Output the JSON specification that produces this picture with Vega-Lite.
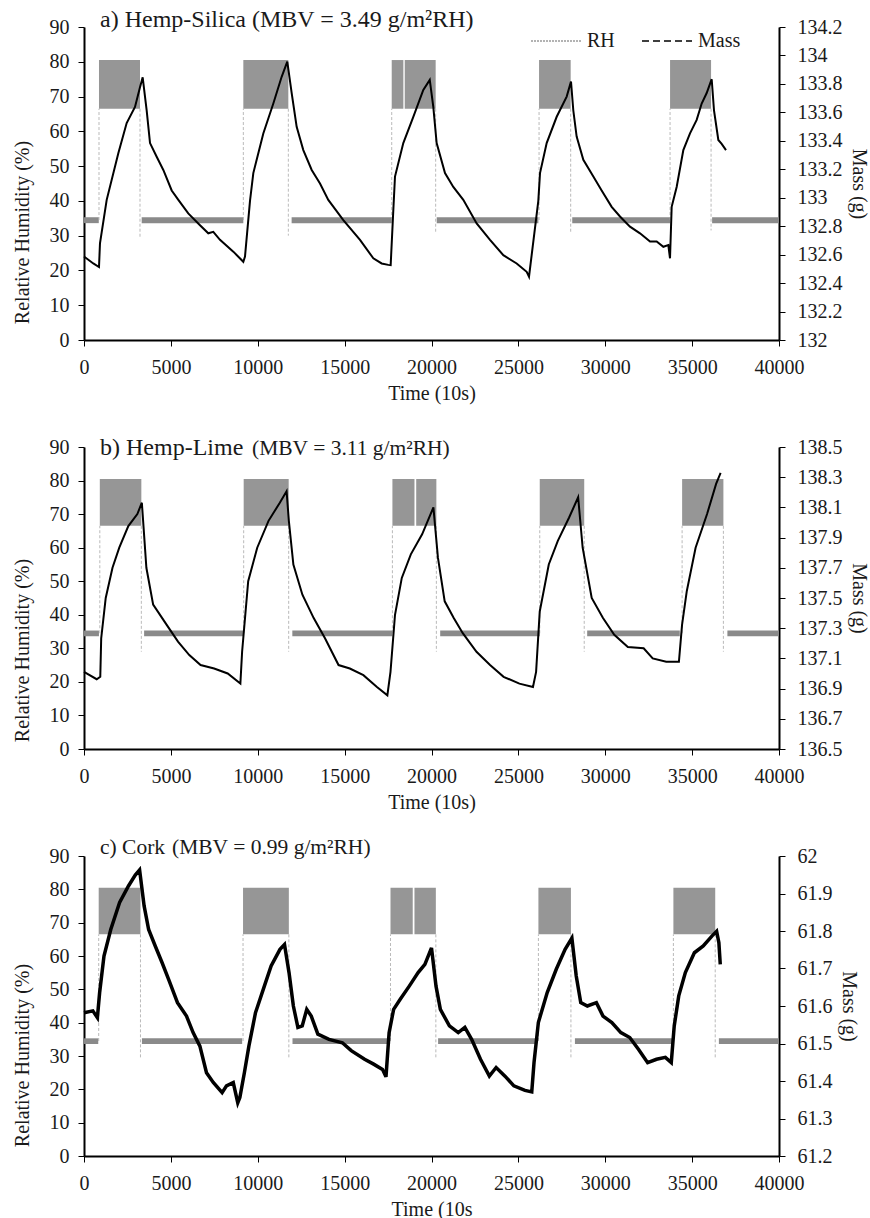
{
  "$schema": "https://vega.github.io/schema/vega-lite/v6.json",
  "padding": {"left": 12, "top": 8, "right": 3, "bottom": 0},
  "background": "white",
  "config": {
    "view": {"stroke": null},
    "font": "Liberation Serif",
    "axis": {
      "domainColor": "#000", "domainWidth": 2, "tickColor": "#000", "tickWidth": 1, "tickSize": 6,
      "labelFont": "Liberation Serif", "labelFontSize": 20, "labelColor": "#1a1a1a",
      "titleFont": "Liberation Serif", "titleFontSize": 20, "titleFontWeight": "normal", "titleColor": "#1a1a1a",
      "grid": false, "labelPadding": 9, "labelOverlap": false, "labelFlush": false
    }
  },
  "datasets": {
    "bands_a": [
      {"t": 863, "t2": 3223, "lo": 66.5, "hi": 80.5, "phase": "high"},
      {"t": 9170, "t2": 11760, "lo": 66.5, "hi": 80.5, "phase": "high"},
      {"t": 17710, "t2": 18380, "lo": 66.5, "hi": 80.5, "phase": "high"},
      {"t": 18460, "t2": 20240, "lo": 66.5, "hi": 80.5, "phase": "high"},
      {"t": 26190, "t2": 28010, "lo": 66.5, "hi": 80.5, "phase": "high"},
      {"t": 33730, "t2": 36090, "lo": 66.5, "hi": 80.5, "phase": "high"},
      {"t": 0, "t2": 850, "lo": 33.6, "hi": 35.3, "phase": "low"},
      {"t": 3320, "t2": 9170, "lo": 33.6, "hi": 35.3, "phase": "low"},
      {"t": 11950, "t2": 17710, "lo": 33.6, "hi": 35.3, "phase": "low"},
      {"t": 20300, "t2": 26150, "lo": 33.6, "hi": 35.3, "phase": "low"},
      {"t": 28100, "t2": 33730, "lo": 33.6, "hi": 35.3, "phase": "low"},
      {"t": 36150, "t2": 40000, "lo": 33.6, "hi": 35.3, "phase": "low"}
    ],
    "rules_a": [
      {"t": 863, "r1": 34.5, "r2": 66.5},
      {"t": 3223, "r1": 66.5, "r2": 29.3},
      {"t": 9170, "r1": 34.5, "r2": 66.5},
      {"t": 11760, "r1": 66.5, "r2": 30},
      {"t": 17710, "r1": 34.5, "r2": 66.5},
      {"t": 20240, "r1": 66.5, "r2": 30.8},
      {"t": 26190, "r1": 34.5, "r2": 66.5},
      {"t": 28010, "r1": 66.5, "r2": 30.8},
      {"t": 33730, "r1": 34.5, "r2": 66.5},
      {"t": 36090, "r1": 66.5, "r2": 31.5}
    ],
    "mass_a": [
      {"t": 0, "m": 132.587}, {"t": 535, "m": 132.538}, {"t": 863, "m": 132.513}, {"t": 920, "m": 132.68},
      {"t": 1306, "m": 132.985}, {"t": 1975, "m": 133.313}, {"t": 2456, "m": 133.525}, {"t": 2935, "m": 133.638},
      {"t": 3223, "m": 133.777}, {"t": 3377, "m": 133.846}, {"t": 3608, "m": 133.613}, {"t": 3800, "m": 133.384},
      {"t": 4183, "m": 133.288}, {"t": 4565, "m": 133.195}, {"t": 5047, "m": 133.051}, {"t": 5430, "m": 132.985},
      {"t": 6000, "m": 132.89}, {"t": 6676, "m": 132.807}, {"t": 7154, "m": 132.75}, {"t": 7442, "m": 132.76},
      {"t": 7827, "m": 132.704}, {"t": 8594, "m": 132.621}, {"t": 9169, "m": 132.55}, {"t": 9266, "m": 132.587},
      {"t": 9554, "m": 132.978}, {"t": 9745, "m": 133.173}, {"t": 10320, "m": 133.452}, {"t": 10896, "m": 133.662},
      {"t": 11376, "m": 133.85}, {"t": 11700, "m": 133.956}, {"t": 11953, "m": 133.736}, {"t": 12240, "m": 133.498},
      {"t": 12622, "m": 133.335}, {"t": 13105, "m": 133.195}, {"t": 13583, "m": 133.1}, {"t": 14060, "m": 132.985},
      {"t": 14925, "m": 132.843}, {"t": 15885, "m": 132.704}, {"t": 16652, "m": 132.574}, {"t": 17131, "m": 132.538},
      {"t": 17515, "m": 132.528}, {"t": 17650, "m": 132.526}, {"t": 17780, "m": 132.856}, {"t": 17899, "m": 133.149},
      {"t": 18377, "m": 133.384}, {"t": 18953, "m": 133.569}, {"t": 19528, "m": 133.758}, {"t": 19900, "m": 133.828},
      {"t": 20104, "m": 133.638}, {"t": 20296, "m": 133.384}, {"t": 20777, "m": 133.173}, {"t": 21255, "m": 133.076},
      {"t": 21830, "m": 132.985}, {"t": 22600, "m": 132.819}, {"t": 23367, "m": 132.704}, {"t": 24134, "m": 132.596},
      {"t": 24902, "m": 132.538}, {"t": 25477, "m": 132.479}, {"t": 25612, "m": 132.445}, {"t": 26148, "m": 132.978},
      {"t": 26245, "m": 133.173}, {"t": 26629, "m": 133.384}, {"t": 27205, "m": 133.569}, {"t": 27780, "m": 133.711},
      {"t": 28029, "m": 133.816}, {"t": 28162, "m": 133.613}, {"t": 28354, "m": 133.43}, {"t": 28738, "m": 133.266},
      {"t": 29314, "m": 133.149}, {"t": 29793, "m": 133.051}, {"t": 30369, "m": 132.936}, {"t": 30849, "m": 132.868},
      {"t": 31424, "m": 132.797}, {"t": 32000, "m": 132.75}, {"t": 32576, "m": 132.692}, {"t": 32960, "m": 132.692},
      {"t": 33343, "m": 132.655}, {"t": 33630, "m": 132.667}, {"t": 33727, "m": 132.574}, {"t": 33823, "m": 132.936},
      {"t": 34110, "m": 133.076}, {"t": 34494, "m": 133.335}, {"t": 34878, "m": 133.452}, {"t": 35262, "m": 133.547},
      {"t": 35550, "m": 133.662}, {"t": 35838, "m": 133.736}, {"t": 36126, "m": 133.833}, {"t": 36259, "m": 133.613},
      {"t": 36508, "m": 133.406}, {"t": 36700, "m": 133.379}, {"t": 36950, "m": 133.335}
    ],
    "bands_b": [
      {"t": 910, "t2": 3300, "lo": 66.5, "hi": 80.5, "phase": "high"},
      {"t": 9190, "t2": 11780, "lo": 66.5, "hi": 80.5, "phase": "high"},
      {"t": 17750, "t2": 19020, "lo": 66.5, "hi": 80.5, "phase": "high"},
      {"t": 19120, "t2": 20280, "lo": 66.5, "hi": 80.5, "phase": "high"},
      {"t": 26230, "t2": 28790, "lo": 66.5, "hi": 80.5, "phase": "high"},
      {"t": 34424, "t2": 36800, "lo": 66.5, "hi": 80.5, "phase": "high"},
      {"t": 0, "t2": 860, "lo": 33.6, "hi": 35.3, "phase": "low"},
      {"t": 3460, "t2": 9185, "lo": 33.6, "hi": 35.3, "phase": "low"},
      {"t": 11990, "t2": 17745, "lo": 33.6, "hi": 35.3, "phase": "low"},
      {"t": 20500, "t2": 26230, "lo": 33.6, "hi": 35.3, "phase": "low"},
      {"t": 28960, "t2": 34290, "lo": 33.6, "hi": 35.3, "phase": "low"},
      {"t": 37030, "t2": 40000, "lo": 33.6, "hi": 35.3, "phase": "low"}
    ],
    "rules_b": [
      {"t": 910, "r1": 34.5, "r2": 66.5},
      {"t": 3300, "r1": 66.5, "r2": 29},
      {"t": 9190, "r1": 34.5, "r2": 66.5},
      {"t": 11780, "r1": 66.5, "r2": 29},
      {"t": 17750, "r1": 34.5, "r2": 66.5},
      {"t": 20280, "r1": 66.5, "r2": 29},
      {"t": 26230, "r1": 34.5, "r2": 66.5},
      {"t": 28790, "r1": 66.5, "r2": 29},
      {"t": 34424, "r1": 34.5, "r2": 66.5},
      {"t": 36800, "r1": 66.5, "r2": 29}
    ],
    "mass_b": [
      {"t": 0, "m": 137.011}, {"t": 730, "m": 136.962}, {"t": 937, "m": 136.978}, {"t": 990, "m": 137.233},
      {"t": 1250, "m": 137.5}, {"t": 1640, "m": 137.7}, {"t": 2030, "m": 137.833}, {"t": 2550, "m": 137.976},
      {"t": 3070, "m": 138.056}, {"t": 3330, "m": 138.131}, {"t": 3590, "m": 137.7}, {"t": 3980, "m": 137.456},
      {"t": 4760, "m": 137.322}, {"t": 5410, "m": 137.211}, {"t": 6060, "m": 137.122}, {"t": 6710, "m": 137.056},
      {"t": 7490, "m": 137.033}, {"t": 8270, "m": 137.0}, {"t": 9000, "m": 136.933}, {"t": 9100, "m": 137.144},
      {"t": 9450, "m": 137.611}, {"t": 9970, "m": 137.833}, {"t": 10620, "m": 138.011}, {"t": 11270, "m": 138.131},
      {"t": 11660, "m": 138.207}, {"t": 11790, "m": 138.011}, {"t": 12050, "m": 137.722}, {"t": 12570, "m": 137.522},
      {"t": 13220, "m": 137.367}, {"t": 13870, "m": 137.233}, {"t": 14650, "m": 137.056}, {"t": 15300, "m": 137.033},
      {"t": 16080, "m": 136.989}, {"t": 16860, "m": 136.911}, {"t": 17460, "m": 136.856}, {"t": 17640, "m": 137.011},
      {"t": 17900, "m": 137.389}, {"t": 18290, "m": 137.633}, {"t": 18810, "m": 137.789}, {"t": 19460, "m": 137.922},
      {"t": 20110, "m": 138.1}, {"t": 20370, "m": 137.767}, {"t": 20760, "m": 137.478}, {"t": 21280, "m": 137.367},
      {"t": 21800, "m": 137.267}, {"t": 22590, "m": 137.144}, {"t": 23370, "m": 137.056}, {"t": 24150, "m": 136.978},
      {"t": 25060, "m": 136.933}, {"t": 25840, "m": 136.911}, {"t": 26020, "m": 137.011}, {"t": 26230, "m": 137.411},
      {"t": 26750, "m": 137.722}, {"t": 27270, "m": 137.878}, {"t": 27920, "m": 138.033}, {"t": 28440, "m": 138.167},
      {"t": 28700, "m": 137.833}, {"t": 29220, "m": 137.5}, {"t": 29870, "m": 137.367}, {"t": 30520, "m": 137.256},
      {"t": 31300, "m": 137.176}, {"t": 32210, "m": 137.167}, {"t": 32730, "m": 137.1}, {"t": 33510, "m": 137.078},
      {"t": 34240, "m": 137.078}, {"t": 34420, "m": 137.322}, {"t": 34690, "m": 137.544}, {"t": 35200, "m": 137.833},
      {"t": 35860, "m": 138.056}, {"t": 36380, "m": 138.256}, {"t": 36640, "m": 138.329}
    ],
    "bands_c": [
      {"t": 846, "t2": 3250, "lo": 66.5, "hi": 80.5, "phase": "high"},
      {"t": 9153, "t2": 11790, "lo": 66.5, "hi": 80.5, "phase": "high"},
      {"t": 17640, "t2": 18920, "lo": 66.5, "hi": 80.5, "phase": "high"},
      {"t": 19020, "t2": 20250, "lo": 66.5, "hi": 80.5, "phase": "high"},
      {"t": 26153, "t2": 28025, "lo": 66.5, "hi": 80.5, "phase": "high"},
      {"t": 33922, "t2": 36330, "lo": 66.5, "hi": 80.5, "phase": "high"},
      {"t": 0, "t2": 820, "lo": 33.6, "hi": 35.3, "phase": "low"},
      {"t": 3333, "t2": 9102, "lo": 33.6, "hi": 35.3, "phase": "low"},
      {"t": 12000, "t2": 17615, "lo": 33.6, "hi": 35.3, "phase": "low"},
      {"t": 20380, "t2": 26025, "lo": 33.6, "hi": 35.3, "phase": "low"},
      {"t": 28255, "t2": 33900, "lo": 33.6, "hi": 35.3, "phase": "low"},
      {"t": 36540, "t2": 40000, "lo": 33.6, "hi": 35.3, "phase": "low"}
    ],
    "rules_c": [
      {"t": 846, "r1": 34.5, "r2": 66.5},
      {"t": 3250, "r1": 66.5, "r2": 29},
      {"t": 9153, "r1": 34.5, "r2": 66.5},
      {"t": 11790, "r1": 66.5, "r2": 29},
      {"t": 17640, "r1": 34.5, "r2": 66.5},
      {"t": 20250, "r1": 66.5, "r2": 29},
      {"t": 26153, "r1": 34.5, "r2": 66.5},
      {"t": 28025, "r1": 66.5, "r2": 29},
      {"t": 33922, "r1": 34.5, "r2": 66.5},
      {"t": 36330, "r1": 66.5, "r2": 29}
    ],
    "mass_c": [
      {"t": 0, "m": 61.582}, {"t": 510, "m": 61.587}, {"t": 770, "m": 61.569}, {"t": 900, "m": 61.636},
      {"t": 1150, "m": 61.733}, {"t": 1540, "m": 61.804}, {"t": 2050, "m": 61.876}, {"t": 2560, "m": 61.92},
      {"t": 2950, "m": 61.949}, {"t": 3200, "m": 61.963}, {"t": 3460, "m": 61.867}, {"t": 3720, "m": 61.804},
      {"t": 4100, "m": 61.76}, {"t": 4490, "m": 61.716}, {"t": 4870, "m": 61.671}, {"t": 5380, "m": 61.609},
      {"t": 5900, "m": 61.573}, {"t": 6280, "m": 61.529}, {"t": 6670, "m": 61.493}, {"t": 7050, "m": 61.422},
      {"t": 7440, "m": 61.396}, {"t": 7950, "m": 61.369}, {"t": 8200, "m": 61.387}, {"t": 8590, "m": 61.396},
      {"t": 8850, "m": 61.342}, {"t": 8970, "m": 61.356}, {"t": 9230, "m": 61.422}, {"t": 9490, "m": 61.493},
      {"t": 9870, "m": 61.582}, {"t": 10380, "m": 61.653}, {"t": 10770, "m": 61.707}, {"t": 11280, "m": 61.751},
      {"t": 11540, "m": 61.764}, {"t": 11800, "m": 61.689}, {"t": 12050, "m": 61.6}, {"t": 12310, "m": 61.543},
      {"t": 12560, "m": 61.547}, {"t": 12820, "m": 61.591}, {"t": 13080, "m": 61.573}, {"t": 13460, "m": 61.525},
      {"t": 14100, "m": 61.511}, {"t": 14870, "m": 61.502}, {"t": 15380, "m": 61.481}, {"t": 16150, "m": 61.458},
      {"t": 16670, "m": 61.445}, {"t": 17180, "m": 61.431}, {"t": 17380, "m": 61.411}, {"t": 17560, "m": 61.529},
      {"t": 17820, "m": 61.591}, {"t": 18200, "m": 61.618}, {"t": 18720, "m": 61.653}, {"t": 19230, "m": 61.689},
      {"t": 19620, "m": 61.711}, {"t": 20000, "m": 61.755}, {"t": 20260, "m": 61.653}, {"t": 20510, "m": 61.591},
      {"t": 21030, "m": 61.547}, {"t": 21540, "m": 61.529}, {"t": 21920, "m": 61.543}, {"t": 22310, "m": 61.511},
      {"t": 22820, "m": 61.458}, {"t": 23330, "m": 61.413}, {"t": 23720, "m": 61.436}, {"t": 24230, "m": 61.413},
      {"t": 24740, "m": 61.387}, {"t": 25380, "m": 61.375}, {"t": 25770, "m": 61.371}, {"t": 25900, "m": 61.449},
      {"t": 26150, "m": 61.556}, {"t": 26660, "m": 61.636}, {"t": 27180, "m": 61.698}, {"t": 27690, "m": 61.751},
      {"t": 28080, "m": 61.781}, {"t": 28330, "m": 61.68}, {"t": 28590, "m": 61.609}, {"t": 28970, "m": 61.6},
      {"t": 29490, "m": 61.609}, {"t": 29870, "m": 61.573}, {"t": 30380, "m": 61.556}, {"t": 30900, "m": 61.529},
      {"t": 31410, "m": 61.516}, {"t": 31920, "m": 61.484}, {"t": 32440, "m": 61.449}, {"t": 32950, "m": 61.458},
      {"t": 33460, "m": 61.463}, {"t": 33800, "m": 61.449}, {"t": 33970, "m": 61.547}, {"t": 34230, "m": 61.627},
      {"t": 34610, "m": 61.689}, {"t": 35130, "m": 61.742}, {"t": 35640, "m": 61.76}, {"t": 36150, "m": 61.787},
      {"t": 36410, "m": 61.799}, {"t": 36540, "m": 61.769}, {"t": 36620, "m": 61.711}
    ],
    "series": [{"series": "RH"}, {"series": "Mass"}],
    "blank": [{}]
  },
  "vconcat": [
    {
      "width": 695, "height": 313,
      "layer": [
        {"layer": [
          {"data": {"name": "bands_a"}, "mark": {"type": "rect"},
           "encoding": {
             "x": {"field": "t", "type": "quantitative", "title": "Time (10s)", "scale": {"domain": [0, 40000], "nice": false},
                   "axis": {"values": [0, 5000, 10000, 15000, 20000, 25000, 30000, 35000, 40000], "format": "d", "labelPadding": 11, "titlePadding": 6}},
             "x2": {"field": "t2"},
             "y": {"field": "lo", "type": "quantitative", "title": "Relative Humidity (%)", "scale": {"domain": [0, 90], "nice": false},
                   "axis": {"values": [0, 10, 20, 30, 40, 50, 60, 70, 80, 90], "titlePadding": 17, "titleY": 205}},
             "y2": {"field": "hi"},
             "fill": {"field": "phase", "type": "nominal", "scale": {"domain": ["high", "low"], "range": ["#969696", "#8a8a8a"]}, "legend": null}}},
          {"data": {"name": "rules_a"}, "mark": {"type": "rule", "stroke": "#a8a8a8", "strokeWidth": 0.8, "strokeDash": [3, 2]},
           "encoding": {
             "x": {"field": "t", "type": "quantitative", "title": "Time (10s)", "scale": {"domain": [0, 40000], "nice": false},
                   "axis": {"values": [0, 5000, 10000, 15000, 20000, 25000, 30000, 35000, 40000], "format": "d", "labelPadding": 11, "titlePadding": 6}},
             "y": {"field": "r1", "type": "quantitative", "title": "Relative Humidity (%)", "scale": {"domain": [0, 90], "nice": false},
                   "axis": {"values": [0, 10, 20, 30, 40, 50, 60, 70, 80, 90], "titlePadding": 17, "titleY": 205}},
             "y2": {"field": "r2"}}},
          {"data": {"name": "series"}, "mark": {"type": "line", "opacity": 0},
           "encoding": {
             "x": {"datum": 0, "type": "quantitative", "title": "Time (10s)", "scale": {"domain": [0, 40000], "nice": false},
                   "axis": {"values": [0, 5000, 10000, 15000, 20000, 25000, 30000, 35000, 40000], "format": "d", "labelPadding": 11, "titlePadding": 6}},
             "y": {"datum": 0, "type": "quantitative", "title": "Relative Humidity (%)", "scale": {"domain": [0, 90], "nice": false},
                   "axis": {"values": [0, 10, 20, 30, 40, 50, 60, 70, 80, 90], "titlePadding": 17, "titleY": 205}},
             "color": {"field": "series", "type": "nominal", "scale": {"domain": ["RH", "Mass"], "range": ["#9a9a9a", "#000000"]},
                       "legend": {"orient": "none", "legendX": 446, "legendY": -12, "direction": "horizontal", "title": null,
                                  "symbolType": "stroke", "symbolSize": 2500, "symbolStrokeWidth": 1.3, "symbolOpacity": 1,
                                  "labelFont": "Liberation Serif", "labelFontSize": 20, "labelColor": "#1a1a1a",
                                  "labelOffset": 5, "columnPadding": 24, "padding": 0}},
             "strokeDash": {"field": "series", "type": "nominal", "scale": {"domain": ["RH", "Mass"], "range": [[2, 1], [7, 4]]}, "legend": null}}},
          {"data": {"name": "blank"}, "mark": {"type": "text", "text": "a) Hemp-Silica (MBV = 3.49 g/m²RH)", "align": "left", "baseline": "alphabetic", "fontSize": 24, "font": "Liberation Serif", "color": "#1a1a1a"},
           "encoding": {
             "x": {"datum": 921, "type": "quantitative", "title": "Time (10s)", "scale": {"domain": [0, 40000], "nice": false},
                   "axis": {"values": [0, 5000, 10000, 15000, 20000, 25000, 30000, 35000, 40000], "format": "d", "labelPadding": 11, "titlePadding": 6}},
             "y": {"datum": 90, "type": "quantitative", "title": "Relative Humidity (%)", "scale": {"domain": [0, 90], "nice": false},
                   "axis": {"values": [0, 10, 20, 30, 40, 50, 60, 70, 80, 90], "titlePadding": 17, "titleY": 205}}}}
        ]},
        {"data": {"name": "mass_a"}, "mark": {"type": "line", "stroke": "#000", "strokeWidth": 2},
         "encoding": {
           "x": {"field": "t", "type": "quantitative", "title": "Time (10s)", "scale": {"domain": [0, 40000], "nice": false},
                 "axis": {"values": [0, 5000, 10000, 15000, 20000, 25000, 30000, 35000, 40000], "format": "d", "labelPadding": 11, "titlePadding": 6}},
           "y": {"field": "m", "type": "quantitative", "title": "Mass (g)", "scale": {"domain": [132, 134.2], "nice": false, "zero": false},
                 "axis": {"orient": "right", "format": "~f", "labelPadding": 12, "titlePadding": 6,
                          "values": [132, 132.2, 132.4, 132.6, 132.8, 133, 133.2, 133.4, 133.6, 133.8, 134, 134.2]}}}}
      ],
      "resolve": {"scale": {"y": "independent"}}
    },
    {
      "width": 695, "height": 302,
      "layer": [
        {"layer": [
          {"data": {"name": "bands_b"}, "mark": {"type": "rect"},
           "encoding": {
             "x": {"field": "t", "type": "quantitative", "title": "Time (10s)", "scale": {"domain": [0, 40000], "nice": false},
                   "axis": {"values": [0, 5000, 10000, 15000, 20000, 25000, 30000, 35000, 40000], "format": "d", "labelPadding": 11, "titlePadding": 6}},
             "x2": {"field": "t2"},
             "y": {"field": "lo", "type": "quantitative", "title": "Relative Humidity (%)", "scale": {"domain": [0, 90], "nice": false},
                   "axis": {"values": [0, 10, 20, 30, 40, 50, 60, 70, 80, 90], "titlePadding": 17, "titleY": 203}},
             "y2": {"field": "hi"},
             "fill": {"field": "phase", "type": "nominal", "scale": {"domain": ["high", "low"], "range": ["#969696", "#8a8a8a"]}, "legend": null}}},
          {"data": {"name": "rules_b"}, "mark": {"type": "rule", "stroke": "#a8a8a8", "strokeWidth": 0.8, "strokeDash": [3, 2]},
           "encoding": {
             "x": {"field": "t", "type": "quantitative", "title": "Time (10s)", "scale": {"domain": [0, 40000], "nice": false},
                   "axis": {"values": [0, 5000, 10000, 15000, 20000, 25000, 30000, 35000, 40000], "format": "d", "labelPadding": 11, "titlePadding": 6}},
             "y": {"field": "r1", "type": "quantitative", "title": "Relative Humidity (%)", "scale": {"domain": [0, 90], "nice": false},
                   "axis": {"values": [0, 10, 20, 30, 40, 50, 60, 70, 80, 90], "titlePadding": 17, "titleY": 203}},
             "y2": {"field": "r2"}}},
          {"data": {"name": "blank"}, "mark": {"type": "text", "text": "b) Hemp-Lime", "align": "left", "baseline": "alphabetic", "fontSize": 24, "font": "Liberation Serif", "color": "#1a1a1a"},
           "encoding": {
             "x": {"datum": 921, "type": "quantitative", "title": "Time (10s)", "scale": {"domain": [0, 40000], "nice": false},
                   "axis": {"values": [0, 5000, 10000, 15000, 20000, 25000, 30000, 35000, 40000], "format": "d", "labelPadding": 11, "titlePadding": 6}},
             "y": {"datum": 87.6, "type": "quantitative", "title": "Relative Humidity (%)", "scale": {"domain": [0, 90], "nice": false},
                   "axis": {"values": [0, 10, 20, 30, 40, 50, 60, 70, 80, 90], "titlePadding": 17, "titleY": 203}}}},
          {"data": {"name": "blank"}, "mark": {"type": "text", "text": "(MBV = 3.11 g/m²RH)", "align": "left", "baseline": "alphabetic", "fontSize": 21.5, "font": "Liberation Serif", "color": "#1a1a1a"},
           "encoding": {
             "x": {"datum": 9669, "type": "quantitative", "title": "Time (10s)", "scale": {"domain": [0, 40000], "nice": false},
                   "axis": {"values": [0, 5000, 10000, 15000, 20000, 25000, 30000, 35000, 40000], "format": "d", "labelPadding": 11, "titlePadding": 6}},
             "y": {"datum": 87.6, "type": "quantitative", "title": "Relative Humidity (%)", "scale": {"domain": [0, 90], "nice": false},
                   "axis": {"values": [0, 10, 20, 30, 40, 50, 60, 70, 80, 90], "titlePadding": 17, "titleY": 203}}}}
        ]},
        {"data": {"name": "mass_b"}, "mark": {"type": "line", "stroke": "#000", "strokeWidth": 2},
         "encoding": {
           "x": {"field": "t", "type": "quantitative", "title": "Time (10s)", "scale": {"domain": [0, 40000], "nice": false},
                 "axis": {"values": [0, 5000, 10000, 15000, 20000, 25000, 30000, 35000, 40000], "format": "d", "labelPadding": 11, "titlePadding": 6}},
           "y": {"field": "m", "type": "quantitative", "title": "Mass (g)", "scale": {"domain": [136.5, 138.5], "nice": false, "zero": false},
                 "axis": {"orient": "right", "format": "~f", "labelPadding": 12, "titlePadding": 6,
                          "values": [136.5, 136.7, 136.9, 137.1, 137.3, 137.5, 137.7, 137.9, 138.1, 138.3, 138.5]}}}}
      ],
      "resolve": {"scale": {"y": "independent"}}
    },
    {
      "width": 695, "height": 300,
      "layer": [
        {"layer": [
          {"data": {"name": "bands_c"}, "mark": {"type": "rect"},
           "encoding": {
             "x": {"field": "t", "type": "quantitative", "title": "Time (10s", "scale": {"domain": [0, 40000], "nice": false},
                   "axis": {"values": [0, 5000, 10000, 15000, 20000, 25000, 30000, 35000, 40000], "format": "d", "labelPadding": 11, "titlePadding": 6}},
             "x2": {"field": "t2"},
             "y": {"field": "lo", "type": "quantitative", "title": "Relative Humidity (%)", "scale": {"domain": [0, 90], "nice": false},
                   "axis": {"values": [0, 10, 20, 30, 40, 50, 60, 70, 80, 90], "titlePadding": 17, "titleY": 199}},
             "y2": {"field": "hi"},
             "fill": {"field": "phase", "type": "nominal", "scale": {"domain": ["high", "low"], "range": ["#969696", "#8a8a8a"]}, "legend": null}}},
          {"data": {"name": "rules_c"}, "mark": {"type": "rule", "stroke": "#a8a8a8", "strokeWidth": 0.8, "strokeDash": [3, 2]},
           "encoding": {
             "x": {"field": "t", "type": "quantitative", "title": "Time (10s", "scale": {"domain": [0, 40000], "nice": false},
                   "axis": {"values": [0, 5000, 10000, 15000, 20000, 25000, 30000, 35000, 40000], "format": "d", "labelPadding": 11, "titlePadding": 6}},
             "y": {"field": "r1", "type": "quantitative", "title": "Relative Humidity (%)", "scale": {"domain": [0, 90], "nice": false},
                   "axis": {"values": [0, 10, 20, 30, 40, 50, 60, 70, 80, 90], "titlePadding": 17, "titleY": 199}},
             "y2": {"field": "r2"}}},
          {"data": {"name": "blank"}, "mark": {"type": "text", "text": "c) Cork", "align": "left", "baseline": "alphabetic", "fontSize": 21.5, "font": "Liberation Serif", "color": "#1a1a1a"},
           "encoding": {
             "x": {"datum": 921, "type": "quantitative", "title": "Time (10s", "scale": {"domain": [0, 40000], "nice": false},
                   "axis": {"values": [0, 5000, 10000, 15000, 20000, 25000, 30000, 35000, 40000], "format": "d", "labelPadding": 11, "titlePadding": 6}},
             "y": {"datum": 90.6, "type": "quantitative", "title": "Relative Humidity (%)", "scale": {"domain": [0, 90], "nice": false},
                   "axis": {"values": [0, 10, 20, 30, 40, 50, 60, 70, 80, 90], "titlePadding": 17, "titleY": 199}}}},
          {"data": {"name": "blank"}, "mark": {"type": "text", "text": "(MBV = 0.99 g/m²RH)", "align": "left", "baseline": "alphabetic", "fontSize": 21.5, "font": "Liberation Serif", "color": "#1a1a1a"},
           "encoding": {
             "x": {"datum": 5065, "type": "quantitative", "title": "Time (10s", "scale": {"domain": [0, 40000], "nice": false},
                   "axis": {"values": [0, 5000, 10000, 15000, 20000, 25000, 30000, 35000, 40000], "format": "d", "labelPadding": 11, "titlePadding": 6}},
             "y": {"datum": 90.6, "type": "quantitative", "title": "Relative Humidity (%)", "scale": {"domain": [0, 90], "nice": false},
                   "axis": {"values": [0, 10, 20, 30, 40, 50, 60, 70, 80, 90], "titlePadding": 17, "titleY": 199}}}}
        ]},
        {"data": {"name": "mass_c"}, "mark": {"type": "line", "stroke": "#000", "strokeWidth": 3.5},
         "encoding": {
           "x": {"field": "t", "type": "quantitative", "title": "Time (10s", "scale": {"domain": [0, 40000], "nice": false},
                 "axis": {"values": [0, 5000, 10000, 15000, 20000, 25000, 30000, 35000, 40000], "format": "d", "labelPadding": 11, "titlePadding": 6}},
           "y": {"field": "m", "type": "quantitative", "title": "Mass (g)", "scale": {"domain": [61.2, 62], "nice": false, "zero": false},
                 "axis": {"orient": "right", "format": "~f", "labelPadding": 12, "titlePadding": 6,
                          "values": [61.2, 61.3, 61.4, 61.5, 61.6, 61.7, 61.8, 61.9, 62]}}}}
      ],
      "resolve": {"scale": {"y": "independent"}}
    }
  ],
  "spacing": 107,
  "bounds": "flush"
}
